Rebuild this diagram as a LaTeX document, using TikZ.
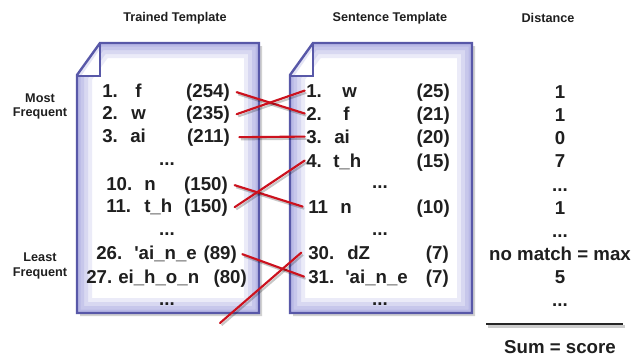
\documentclass[tikz,border=0pt]{standalone}
\usepackage{fontspec}
\newfontfamily\lsans{Liberation Sans}
\usetikzlibrary{calc}
\definecolor{docblue}{RGB}{88,88,168}
\definecolor{docglow}{RGB}{168,168,224}
\definecolor{linkred}{RGB}{204,18,30}
\tikzset{
  big/.style={font=\lsans\bfseries\fontsize{14}{16}\selectfont, inner sep=0pt, text=black!88},
  small/.style={font=\lsans\bfseries\fontsize{9.5}{11}\selectfont, inner sep=0pt, text=black!88},
  link/.style={draw=linkred, line width=1.6pt, line cap=round,
    preaction={draw=black, opacity=0.22, line width=1.6pt, transform canvas={shift={(1.2pt,-1.6pt)}}}},
  rule/.style={draw=black!85, line width=2.2pt,
    preaction={draw=black, opacity=0.2, line width=2.2pt, transform canvas={shift={(1.2pt,-1.8pt)}}}},
}
\newcommand\docpath[3]{(#2,43) -- (#3,43) -- (#3,313) -- (#1,313) -- (#1,75) -- cycle}
\newcommand\mydoc[3]{%
  \fill[black, opacity=0.18, shift={(3,3)}] \docpath{#1}{#2}{#3};
  \fill[white] \docpath{#1}{#2}{#3};
  \begin{scope}
    \clip \docpath{#1}{#2}{#3};
    \foreach \w/\o in {30/0.22, 22/0.28, 14/0.34, 7/0.45}
      \draw[docglow, line width=\w*0.75pt, opacity=\o] \docpath{#1}{#2}{#3};
    \fill[white] (#2,43) -- (#2,76) -- (#1,76) -- cycle;
    \draw[docglow, line width=5pt, opacity=0.3] (#2,43) -- (#1,76);
  \end{scope}
  \draw[docblue, line width=1.8pt, line join=miter] \docpath{#1}{#2}{#3};
  \draw[docblue, line width=1.1pt] (#2,43) -- (#2,76) -- (#1,76);
}
\begin{document}
\begin{tikzpicture}[x=0.75pt,y=-0.75pt]
\useasboundingbox (0,0) rectangle (637,358);
\fill[white] (0,0) rectangle (637,358);

\mydoc{77}{100}{259}
\mydoc{290}{313}{472}

% titles
\node[small, anchor=base] (tt) at (175,21) {Trained Template};
\node[small, anchor=base] (st) at (390,21) {Sentence Template};
\node[small, anchor=base] (dt) at (548,22) {Distance};
\node[small, anchor=base] (most) at (40,102) {Most};
\node[small, anchor=base] (mfreq) at (40,116) {Frequent};
\node[small, anchor=base] (least) at (40,261) {Least};
\node[small, anchor=base] (lfreq) at (40,276) {Frequent};

% left document
\node[big, anchor=base west] (L1n) at (102,97) {1.};
\node[big, anchor=base west] (L1s) at (135,97) {f};
\node[big, anchor=base east] (L1c) at (230,97) {(254)};
\node[big, anchor=base west] (L2n) at (102,119) {2.};
\node[big, anchor=base west] (L2s) at (131,119) {w};
\node[big, anchor=base east] (L2c) at (230,119) {(235)};
\node[big, anchor=base west] (L3n) at (102,142) {3.};
\node[big, anchor=base west] (L3s) at (130,142) {ai};
\node[big, anchor=base east] (L3c) at (230,142) {(211)};
\node[big, anchor=base] (Ld1) at (167,165) {...};
\node[big, anchor=base west] (L10n) at (106,190) {10.};
\node[big, anchor=base west] (L10s) at (144,190) {n};
\node[big, anchor=base east] (L10c) at (228,190) {(150)};
\node[big, anchor=base west] (L11n) at (106,212) {11.};
\node[big, anchor=base west] (L11s) at (144,212) {t\_h};
\node[big, anchor=base east] (L11c) at (228,212) {(150)};
\node[big, anchor=base] (Ld2) at (167,235) {...};
\node[big, anchor=base west] (L26n) at (96,259) {26.};
\node[big, anchor=base west] (L26s) at (134,259) {'ai\_n\_e};
\node[big, anchor=base east] (L26c) at (237,259) {(89)};
\node[big, anchor=base west] (L27n) at (86,283) {27.};
\node[big, anchor=base west] (L27s) at (118,283) {ei\_h\_o\_n};
\node[big, anchor=base east] (L27c) at (247,283) {(80)};
\node[big, anchor=base] (Ld3) at (167,305) {...};

% right document
\node[big, anchor=base west] (R1n) at (306,97) {1.};
\node[big, anchor=base west] (R1s) at (342,97) {w};
\node[big, anchor=base east] (R1c) at (450,97) {(25)};
\node[big, anchor=base west] (R2n) at (306,120) {2.};
\node[big, anchor=base west] (R2s) at (343,120) {f};
\node[big, anchor=base east] (R2c) at (450,120) {(21)};
\node[big, anchor=base west] (R3n) at (306,143) {3.};
\node[big, anchor=base west] (R3s) at (334,143) {ai};
\node[big, anchor=base east] (R3c) at (450,143) {(20)};
\node[big, anchor=base west] (R4n) at (306,167) {4.};
\node[big, anchor=base west] (R4s) at (333,167) {t\_h};
\node[big, anchor=base east] (R4c) at (450,167) {(15)};
\node[big, anchor=base] (Rd1) at (380,188) {...};
\node[big, anchor=base west] (R11n) at (308,213) {11};
\node[big, anchor=base west] (R11s) at (340,213) {n};
\node[big, anchor=base east] (R11c) at (450,213) {(10)};
\node[big, anchor=base] (Rd2) at (380,235) {...};
\node[big, anchor=base west] (R30n) at (308,259) {30.};
\node[big, anchor=base west] (R30s) at (347,259) {dZ};
\node[big, anchor=base east] (R30c) at (449,259) {(7)};
\node[big, anchor=base west] (R31n) at (308,283) {31.};
\node[big, anchor=base west] (R31s) at (345,283) {'ai\_n\_e};
\node[big, anchor=base east] (R31c) at (449,283) {(7)};
\node[big, anchor=base] (Rd3) at (380,305) {...};

% distances
\node[big, anchor=base] (D1) at (560,98) {1};
\node[big, anchor=base] (D2) at (560,121) {1};
\node[big, anchor=base] (D3) at (560,144) {0};
\node[big, anchor=base] (D4) at (560,167) {7};
\node[big, anchor=base] (Dd1) at (560,191) {...};
\node[big, anchor=base] (D5) at (560,214) {1};
\node[big, anchor=base] (Dd2) at (560,237) {...};
\node[big, anchor=base] (D6) at (560,260) {no match = max};
\node[big, anchor=base] (D7) at (560,283) {5};
\node[big, anchor=base] (Dd3) at (560,306) {...};
\coordinate (ruleL) at (486,324);
\coordinate (ruleR) at (623,324);
\draw[rule] (ruleL) -- (ruleR);
\node[big, anchor=base] (sum) at (560,353) {Sum = score};

% links
\draw[link] ([xshift=5pt]L1c.east) -- ([xshift=-1pt]R2n.west);
\draw[link] ([xshift=5pt]L2c.east) -- ([xshift=-1pt]R1n.west);
\draw[link] ([xshift=7pt]L3c.east) -- ([xshift=-1pt]R3n.west);
\draw[link] ([xshift=5pt]L10c.east) -- ([xshift=-4pt]R11n.west);
\draw[link] ([xshift=5pt]L11c.east) -- ([xshift=-1pt]R4n.west);
\draw[link] ([xshift=4pt]L26c.east) -- ([xshift=-3pt]R31n.west);
\coordinate (freeend) at (220,323);
\draw[link] (freeend) -- ([xshift=-5pt]R30n.west);
\end{tikzpicture}
\end{document}
